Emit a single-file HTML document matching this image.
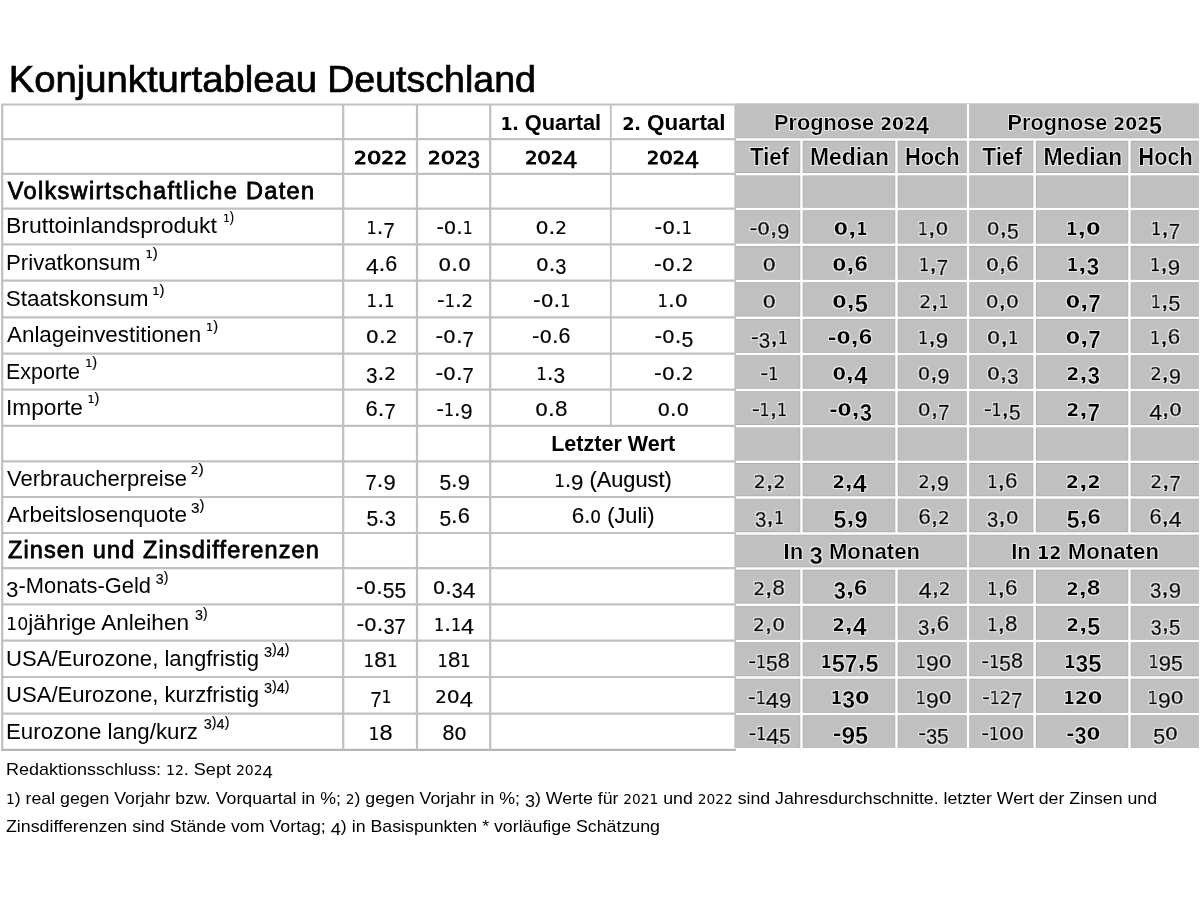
<!DOCTYPE html>
<html lang="de">
<head>
<meta charset="utf-8">
<title>Konjunkturtableau Deutschland</title>
<style>
html,body{margin:0;padding:0;background:#fff;}
body{width:1200px;height:900px;overflow:hidden;}
svg{display:block;}
text{font-family:"Liberation Sans",sans-serif;fill:#000;}
.b{font-weight:bold;}
.sb{font-weight:bold;}
.h{stroke:#000;stroke-width:0.8px;}
.o{font-family:"DejaVu Sans","Liberation Sans",sans-serif;}
.n{stroke:#000;stroke-width:0.15px;}
.n .o{stroke-width:0.18px;}
.n.g{stroke-width:0.7px;}
.n.g .o{stroke-width:0.7px;}
.g{filter:url(#halo);}
.t{stroke:#000;stroke-width:0.7px;}
.y{stroke:#000;stroke-width:0.7px;}
.y .o{stroke-width:0.9px;}
.f .o{stroke:none;}
</style>
</head>
<body>
<svg width="1200" height="900" viewBox="0 0 1200 900">
<defs><filter id="halo" x="-10%" y="-20%" width="120%" height="140%"><feMorphology in="SourceAlpha" operator="dilate" radius="0.9" result="d"/><feGaussianBlur in="d" stdDeviation="0.4" result="bl"/><feFlood flood-color="#fff" flood-opacity="0.6"/><feComposite operator="in" in2="bl" result="hl"/><feMerge><feMergeNode in="hl"/><feMergeNode in="SourceGraphic"/></feMerge></filter></defs>
<rect width="1200" height="900" fill="#fff"/>
<g id="grid">
<rect x="734.3" y="103.3" width="464.7" height="644.7" fill="#c0c0c0"/>
<line x1="1.1" y1="104.5" x2="734.5" y2="104.5" stroke="#c0c0c0" stroke-width="2.2"/>
<line x1="1.1" y1="139.2" x2="734.5" y2="139.2" stroke="#c0c0c0" stroke-width="2.2"/>
<line x1="1.1" y1="173.8" x2="734.5" y2="173.8" stroke="#c0c0c0" stroke-width="2.2"/>
<line x1="1.1" y1="208.7" x2="734.5" y2="208.7" stroke="#c0c0c0" stroke-width="2.2"/>
<line x1="1.1" y1="244.4" x2="734.5" y2="244.4" stroke="#c0c0c0" stroke-width="2.2"/>
<line x1="1.1" y1="280.7" x2="734.5" y2="280.7" stroke="#c0c0c0" stroke-width="2.2"/>
<line x1="1.1" y1="317.3" x2="734.5" y2="317.3" stroke="#c0c0c0" stroke-width="2.2"/>
<line x1="1.1" y1="353.6" x2="734.5" y2="353.6" stroke="#c0c0c0" stroke-width="2.2"/>
<line x1="1.1" y1="389.7" x2="734.5" y2="389.7" stroke="#c0c0c0" stroke-width="2.2"/>
<line x1="1.1" y1="425.8" x2="734.5" y2="425.8" stroke="#c0c0c0" stroke-width="2.2"/>
<line x1="1.1" y1="461.4" x2="734.5" y2="461.4" stroke="#c0c0c0" stroke-width="2.2"/>
<line x1="1.1" y1="497.0" x2="734.5" y2="497.0" stroke="#c0c0c0" stroke-width="2.2"/>
<line x1="1.1" y1="533.0" x2="734.5" y2="533.0" stroke="#c0c0c0" stroke-width="2.2"/>
<line x1="1.1" y1="568.1" x2="734.5" y2="568.1" stroke="#c0c0c0" stroke-width="2.2"/>
<line x1="1.1" y1="604.3" x2="734.5" y2="604.3" stroke="#c0c0c0" stroke-width="2.2"/>
<line x1="1.1" y1="640.7" x2="734.5" y2="640.7" stroke="#c0c0c0" stroke-width="2.2"/>
<line x1="1.1" y1="677.0" x2="734.5" y2="677.0" stroke="#c0c0c0" stroke-width="2.2"/>
<line x1="1.1" y1="713.6" x2="734.5" y2="713.6" stroke="#c0c0c0" stroke-width="2.2"/>
<line x1="1.1" y1="749.8" x2="736.0" y2="749.8" stroke="#b4b4b4" stroke-width="2.2"/>
<line x1="2.2" y1="104.5" x2="2.2" y2="749.8" stroke="#c0c0c0" stroke-width="2.2"/>
<line x1="343.2" y1="104.5" x2="343.2" y2="749.7" stroke="#c0c0c0" stroke-width="2.2"/>
<line x1="417.0" y1="104.5" x2="417.0" y2="749.7" stroke="#c0c0c0" stroke-width="2.2"/>
<line x1="490.2" y1="104.5" x2="490.2" y2="749.7" stroke="#c0c0c0" stroke-width="2.2"/>
<line x1="610.8" y1="104.5" x2="610.8" y2="425.8" stroke="#c0c0c0" stroke-width="1.8000000000000003"/>
<line x1="736.0" y1="139.6" x2="1199.0" y2="139.6" stroke="#a9a9a9" stroke-width="3.8"/>
<line x1="736.0" y1="174.2" x2="1199.0" y2="174.2" stroke="#a9a9a9" stroke-width="3.8"/>
<line x1="736.0" y1="209.1" x2="1199.0" y2="209.1" stroke="#a9a9a9" stroke-width="3.8"/>
<line x1="736.0" y1="244.8" x2="1199.0" y2="244.8" stroke="#a9a9a9" stroke-width="3.8"/>
<line x1="736.0" y1="281.1" x2="1199.0" y2="281.1" stroke="#a9a9a9" stroke-width="3.8"/>
<line x1="736.0" y1="317.7" x2="1199.0" y2="317.7" stroke="#a9a9a9" stroke-width="3.8"/>
<line x1="736.0" y1="354.0" x2="1199.0" y2="354.0" stroke="#a9a9a9" stroke-width="3.8"/>
<line x1="736.0" y1="390.1" x2="1199.0" y2="390.1" stroke="#a9a9a9" stroke-width="3.8"/>
<line x1="736.0" y1="426.2" x2="1199.0" y2="426.2" stroke="#a9a9a9" stroke-width="3.8"/>
<line x1="736.0" y1="461.8" x2="1199.0" y2="461.8" stroke="#a9a9a9" stroke-width="3.8"/>
<line x1="736.0" y1="497.4" x2="1199.0" y2="497.4" stroke="#a9a9a9" stroke-width="3.8"/>
<line x1="736.0" y1="533.4" x2="1199.0" y2="533.4" stroke="#a9a9a9" stroke-width="3.8"/>
<line x1="736.0" y1="568.5" x2="1199.0" y2="568.5" stroke="#a9a9a9" stroke-width="3.8"/>
<line x1="736.0" y1="604.7" x2="1199.0" y2="604.7" stroke="#a9a9a9" stroke-width="3.8"/>
<line x1="736.0" y1="641.1" x2="1199.0" y2="641.1" stroke="#a9a9a9" stroke-width="3.8"/>
<line x1="736.0" y1="677.4" x2="1199.0" y2="677.4" stroke="#a9a9a9" stroke-width="3.8"/>
<line x1="736.0" y1="714.0" x2="1199.0" y2="714.0" stroke="#a9a9a9" stroke-width="3.8"/>
<line x1="968.0" y1="103.3" x2="968.0" y2="139.2" stroke="#a9a9a9" stroke-width="3.8"/>
<line x1="801.5" y1="139.2" x2="801.5" y2="173.8" stroke="#a9a9a9" stroke-width="3.8"/>
<line x1="896.5" y1="139.2" x2="896.5" y2="173.8" stroke="#a9a9a9" stroke-width="3.8"/>
<line x1="968.0" y1="139.2" x2="968.0" y2="173.8" stroke="#a9a9a9" stroke-width="3.8"/>
<line x1="1034.6" y1="139.2" x2="1034.6" y2="173.8" stroke="#a9a9a9" stroke-width="3.8"/>
<line x1="1129.5" y1="139.2" x2="1129.5" y2="173.8" stroke="#a9a9a9" stroke-width="3.8"/>
<line x1="801.5" y1="173.8" x2="801.5" y2="208.7" stroke="#a9a9a9" stroke-width="3.8"/>
<line x1="896.5" y1="173.8" x2="896.5" y2="208.7" stroke="#a9a9a9" stroke-width="3.8"/>
<line x1="968.0" y1="173.8" x2="968.0" y2="208.7" stroke="#a9a9a9" stroke-width="3.8"/>
<line x1="1034.6" y1="173.8" x2="1034.6" y2="208.7" stroke="#a9a9a9" stroke-width="3.8"/>
<line x1="1129.5" y1="173.8" x2="1129.5" y2="208.7" stroke="#a9a9a9" stroke-width="3.8"/>
<line x1="801.5" y1="208.7" x2="801.5" y2="244.4" stroke="#a9a9a9" stroke-width="3.8"/>
<line x1="896.5" y1="208.7" x2="896.5" y2="244.4" stroke="#a9a9a9" stroke-width="3.8"/>
<line x1="968.0" y1="208.7" x2="968.0" y2="244.4" stroke="#a9a9a9" stroke-width="3.8"/>
<line x1="1034.6" y1="208.7" x2="1034.6" y2="244.4" stroke="#a9a9a9" stroke-width="3.8"/>
<line x1="1129.5" y1="208.7" x2="1129.5" y2="244.4" stroke="#a9a9a9" stroke-width="3.8"/>
<line x1="801.5" y1="244.4" x2="801.5" y2="280.7" stroke="#a9a9a9" stroke-width="3.8"/>
<line x1="896.5" y1="244.4" x2="896.5" y2="280.7" stroke="#a9a9a9" stroke-width="3.8"/>
<line x1="968.0" y1="244.4" x2="968.0" y2="280.7" stroke="#a9a9a9" stroke-width="3.8"/>
<line x1="1034.6" y1="244.4" x2="1034.6" y2="280.7" stroke="#a9a9a9" stroke-width="3.8"/>
<line x1="1129.5" y1="244.4" x2="1129.5" y2="280.7" stroke="#a9a9a9" stroke-width="3.8"/>
<line x1="801.5" y1="280.7" x2="801.5" y2="317.3" stroke="#a9a9a9" stroke-width="3.8"/>
<line x1="896.5" y1="280.7" x2="896.5" y2="317.3" stroke="#a9a9a9" stroke-width="3.8"/>
<line x1="968.0" y1="280.7" x2="968.0" y2="317.3" stroke="#a9a9a9" stroke-width="3.8"/>
<line x1="1034.6" y1="280.7" x2="1034.6" y2="317.3" stroke="#a9a9a9" stroke-width="3.8"/>
<line x1="1129.5" y1="280.7" x2="1129.5" y2="317.3" stroke="#a9a9a9" stroke-width="3.8"/>
<line x1="801.5" y1="317.3" x2="801.5" y2="353.6" stroke="#a9a9a9" stroke-width="3.8"/>
<line x1="896.5" y1="317.3" x2="896.5" y2="353.6" stroke="#a9a9a9" stroke-width="3.8"/>
<line x1="968.0" y1="317.3" x2="968.0" y2="353.6" stroke="#a9a9a9" stroke-width="3.8"/>
<line x1="1034.6" y1="317.3" x2="1034.6" y2="353.6" stroke="#a9a9a9" stroke-width="3.8"/>
<line x1="1129.5" y1="317.3" x2="1129.5" y2="353.6" stroke="#a9a9a9" stroke-width="3.8"/>
<line x1="801.5" y1="353.6" x2="801.5" y2="389.7" stroke="#a9a9a9" stroke-width="3.8"/>
<line x1="896.5" y1="353.6" x2="896.5" y2="389.7" stroke="#a9a9a9" stroke-width="3.8"/>
<line x1="968.0" y1="353.6" x2="968.0" y2="389.7" stroke="#a9a9a9" stroke-width="3.8"/>
<line x1="1034.6" y1="353.6" x2="1034.6" y2="389.7" stroke="#a9a9a9" stroke-width="3.8"/>
<line x1="1129.5" y1="353.6" x2="1129.5" y2="389.7" stroke="#a9a9a9" stroke-width="3.8"/>
<line x1="801.5" y1="389.7" x2="801.5" y2="425.8" stroke="#a9a9a9" stroke-width="3.8"/>
<line x1="896.5" y1="389.7" x2="896.5" y2="425.8" stroke="#a9a9a9" stroke-width="3.8"/>
<line x1="968.0" y1="389.7" x2="968.0" y2="425.8" stroke="#a9a9a9" stroke-width="3.8"/>
<line x1="1034.6" y1="389.7" x2="1034.6" y2="425.8" stroke="#a9a9a9" stroke-width="3.8"/>
<line x1="1129.5" y1="389.7" x2="1129.5" y2="425.8" stroke="#a9a9a9" stroke-width="3.8"/>
<line x1="801.5" y1="425.8" x2="801.5" y2="461.4" stroke="#a9a9a9" stroke-width="3.8"/>
<line x1="896.5" y1="425.8" x2="896.5" y2="461.4" stroke="#a9a9a9" stroke-width="3.8"/>
<line x1="968.0" y1="425.8" x2="968.0" y2="461.4" stroke="#a9a9a9" stroke-width="3.8"/>
<line x1="1034.6" y1="425.8" x2="1034.6" y2="461.4" stroke="#a9a9a9" stroke-width="3.8"/>
<line x1="1129.5" y1="425.8" x2="1129.5" y2="461.4" stroke="#a9a9a9" stroke-width="3.8"/>
<line x1="801.5" y1="461.4" x2="801.5" y2="497.0" stroke="#a9a9a9" stroke-width="3.8"/>
<line x1="896.5" y1="461.4" x2="896.5" y2="497.0" stroke="#a9a9a9" stroke-width="3.8"/>
<line x1="968.0" y1="461.4" x2="968.0" y2="497.0" stroke="#a9a9a9" stroke-width="3.8"/>
<line x1="1034.6" y1="461.4" x2="1034.6" y2="497.0" stroke="#a9a9a9" stroke-width="3.8"/>
<line x1="1129.5" y1="461.4" x2="1129.5" y2="497.0" stroke="#a9a9a9" stroke-width="3.8"/>
<line x1="801.5" y1="497.0" x2="801.5" y2="533.0" stroke="#a9a9a9" stroke-width="3.8"/>
<line x1="896.5" y1="497.0" x2="896.5" y2="533.0" stroke="#a9a9a9" stroke-width="3.8"/>
<line x1="968.0" y1="497.0" x2="968.0" y2="533.0" stroke="#a9a9a9" stroke-width="3.8"/>
<line x1="1034.6" y1="497.0" x2="1034.6" y2="533.0" stroke="#a9a9a9" stroke-width="3.8"/>
<line x1="1129.5" y1="497.0" x2="1129.5" y2="533.0" stroke="#a9a9a9" stroke-width="3.8"/>
<line x1="968.0" y1="533.0" x2="968.0" y2="568.1" stroke="#a9a9a9" stroke-width="3.8"/>
<line x1="801.5" y1="568.1" x2="801.5" y2="604.3" stroke="#a9a9a9" stroke-width="3.8"/>
<line x1="896.5" y1="568.1" x2="896.5" y2="604.3" stroke="#a9a9a9" stroke-width="3.8"/>
<line x1="968.0" y1="568.1" x2="968.0" y2="604.3" stroke="#a9a9a9" stroke-width="3.8"/>
<line x1="1034.6" y1="568.1" x2="1034.6" y2="604.3" stroke="#a9a9a9" stroke-width="3.8"/>
<line x1="1129.5" y1="568.1" x2="1129.5" y2="604.3" stroke="#a9a9a9" stroke-width="3.8"/>
<line x1="801.5" y1="604.3" x2="801.5" y2="640.7" stroke="#a9a9a9" stroke-width="3.8"/>
<line x1="896.5" y1="604.3" x2="896.5" y2="640.7" stroke="#a9a9a9" stroke-width="3.8"/>
<line x1="968.0" y1="604.3" x2="968.0" y2="640.7" stroke="#a9a9a9" stroke-width="3.8"/>
<line x1="1034.6" y1="604.3" x2="1034.6" y2="640.7" stroke="#a9a9a9" stroke-width="3.8"/>
<line x1="1129.5" y1="604.3" x2="1129.5" y2="640.7" stroke="#a9a9a9" stroke-width="3.8"/>
<line x1="801.5" y1="640.7" x2="801.5" y2="677.0" stroke="#a9a9a9" stroke-width="3.8"/>
<line x1="896.5" y1="640.7" x2="896.5" y2="677.0" stroke="#a9a9a9" stroke-width="3.8"/>
<line x1="968.0" y1="640.7" x2="968.0" y2="677.0" stroke="#a9a9a9" stroke-width="3.8"/>
<line x1="1034.6" y1="640.7" x2="1034.6" y2="677.0" stroke="#a9a9a9" stroke-width="3.8"/>
<line x1="1129.5" y1="640.7" x2="1129.5" y2="677.0" stroke="#a9a9a9" stroke-width="3.8"/>
<line x1="801.5" y1="677.0" x2="801.5" y2="713.6" stroke="#a9a9a9" stroke-width="3.8"/>
<line x1="896.5" y1="677.0" x2="896.5" y2="713.6" stroke="#a9a9a9" stroke-width="3.8"/>
<line x1="968.0" y1="677.0" x2="968.0" y2="713.6" stroke="#a9a9a9" stroke-width="3.8"/>
<line x1="1034.6" y1="677.0" x2="1034.6" y2="713.6" stroke="#a9a9a9" stroke-width="3.8"/>
<line x1="1129.5" y1="677.0" x2="1129.5" y2="713.6" stroke="#a9a9a9" stroke-width="3.8"/>
<line x1="801.5" y1="713.6" x2="801.5" y2="748.0" stroke="#a9a9a9" stroke-width="3.8"/>
<line x1="896.5" y1="713.6" x2="896.5" y2="748.0" stroke="#a9a9a9" stroke-width="3.8"/>
<line x1="968.0" y1="713.6" x2="968.0" y2="748.0" stroke="#a9a9a9" stroke-width="3.8"/>
<line x1="1034.6" y1="713.6" x2="1034.6" y2="748.0" stroke="#a9a9a9" stroke-width="3.8"/>
<line x1="1129.5" y1="713.6" x2="1129.5" y2="748.0" stroke="#a9a9a9" stroke-width="3.8"/>
<line x1="736.0" y1="139.6" x2="1199.0" y2="139.6" stroke="#fff" stroke-width="2.5"/>
<line x1="736.0" y1="174.2" x2="1199.0" y2="174.2" stroke="#fff" stroke-width="2.5"/>
<line x1="736.0" y1="209.1" x2="1199.0" y2="209.1" stroke="#fff" stroke-width="2.5"/>
<line x1="736.0" y1="244.8" x2="1199.0" y2="244.8" stroke="#fff" stroke-width="2.5"/>
<line x1="736.0" y1="281.1" x2="1199.0" y2="281.1" stroke="#fff" stroke-width="2.5"/>
<line x1="736.0" y1="317.7" x2="1199.0" y2="317.7" stroke="#fff" stroke-width="2.5"/>
<line x1="736.0" y1="354.0" x2="1199.0" y2="354.0" stroke="#fff" stroke-width="2.5"/>
<line x1="736.0" y1="390.1" x2="1199.0" y2="390.1" stroke="#fff" stroke-width="2.5"/>
<line x1="736.0" y1="426.2" x2="1199.0" y2="426.2" stroke="#fff" stroke-width="2.5"/>
<line x1="736.0" y1="461.8" x2="1199.0" y2="461.8" stroke="#fff" stroke-width="2.5"/>
<line x1="736.0" y1="497.4" x2="1199.0" y2="497.4" stroke="#fff" stroke-width="2.5"/>
<line x1="736.0" y1="533.4" x2="1199.0" y2="533.4" stroke="#fff" stroke-width="2.5"/>
<line x1="736.0" y1="568.5" x2="1199.0" y2="568.5" stroke="#fff" stroke-width="2.5"/>
<line x1="736.0" y1="604.7" x2="1199.0" y2="604.7" stroke="#fff" stroke-width="2.5"/>
<line x1="736.0" y1="641.1" x2="1199.0" y2="641.1" stroke="#fff" stroke-width="2.5"/>
<line x1="736.0" y1="677.4" x2="1199.0" y2="677.4" stroke="#fff" stroke-width="2.5"/>
<line x1="736.0" y1="714.0" x2="1199.0" y2="714.0" stroke="#fff" stroke-width="2.5"/>
<line x1="968.0" y1="103.3" x2="968.0" y2="140.6" stroke="#fff" stroke-width="2.5"/>
<line x1="801.5" y1="139.2" x2="801.5" y2="175.2" stroke="#fff" stroke-width="2.5"/>
<line x1="896.5" y1="139.2" x2="896.5" y2="175.2" stroke="#fff" stroke-width="2.5"/>
<line x1="968.0" y1="137.8" x2="968.0" y2="175.2" stroke="#fff" stroke-width="2.5"/>
<line x1="1034.6" y1="139.2" x2="1034.6" y2="175.2" stroke="#fff" stroke-width="2.5"/>
<line x1="1129.5" y1="139.2" x2="1129.5" y2="175.2" stroke="#fff" stroke-width="2.5"/>
<line x1="801.5" y1="172.4" x2="801.5" y2="210.1" stroke="#fff" stroke-width="2.5"/>
<line x1="896.5" y1="172.4" x2="896.5" y2="210.1" stroke="#fff" stroke-width="2.5"/>
<line x1="968.0" y1="172.4" x2="968.0" y2="210.1" stroke="#fff" stroke-width="2.5"/>
<line x1="1034.6" y1="172.4" x2="1034.6" y2="210.1" stroke="#fff" stroke-width="2.5"/>
<line x1="1129.5" y1="172.4" x2="1129.5" y2="210.1" stroke="#fff" stroke-width="2.5"/>
<line x1="801.5" y1="207.3" x2="801.5" y2="245.8" stroke="#fff" stroke-width="2.5"/>
<line x1="896.5" y1="207.3" x2="896.5" y2="245.8" stroke="#fff" stroke-width="2.5"/>
<line x1="968.0" y1="207.3" x2="968.0" y2="245.8" stroke="#fff" stroke-width="2.5"/>
<line x1="1034.6" y1="207.3" x2="1034.6" y2="245.8" stroke="#fff" stroke-width="2.5"/>
<line x1="1129.5" y1="207.3" x2="1129.5" y2="245.8" stroke="#fff" stroke-width="2.5"/>
<line x1="801.5" y1="243.0" x2="801.5" y2="282.1" stroke="#fff" stroke-width="2.5"/>
<line x1="896.5" y1="243.0" x2="896.5" y2="282.1" stroke="#fff" stroke-width="2.5"/>
<line x1="968.0" y1="243.0" x2="968.0" y2="282.1" stroke="#fff" stroke-width="2.5"/>
<line x1="1034.6" y1="243.0" x2="1034.6" y2="282.1" stroke="#fff" stroke-width="2.5"/>
<line x1="1129.5" y1="243.0" x2="1129.5" y2="282.1" stroke="#fff" stroke-width="2.5"/>
<line x1="801.5" y1="279.3" x2="801.5" y2="318.7" stroke="#fff" stroke-width="2.5"/>
<line x1="896.5" y1="279.3" x2="896.5" y2="318.7" stroke="#fff" stroke-width="2.5"/>
<line x1="968.0" y1="279.3" x2="968.0" y2="318.7" stroke="#fff" stroke-width="2.5"/>
<line x1="1034.6" y1="279.3" x2="1034.6" y2="318.7" stroke="#fff" stroke-width="2.5"/>
<line x1="1129.5" y1="279.3" x2="1129.5" y2="318.7" stroke="#fff" stroke-width="2.5"/>
<line x1="801.5" y1="315.9" x2="801.5" y2="355.0" stroke="#fff" stroke-width="2.5"/>
<line x1="896.5" y1="315.9" x2="896.5" y2="355.0" stroke="#fff" stroke-width="2.5"/>
<line x1="968.0" y1="315.9" x2="968.0" y2="355.0" stroke="#fff" stroke-width="2.5"/>
<line x1="1034.6" y1="315.9" x2="1034.6" y2="355.0" stroke="#fff" stroke-width="2.5"/>
<line x1="1129.5" y1="315.9" x2="1129.5" y2="355.0" stroke="#fff" stroke-width="2.5"/>
<line x1="801.5" y1="352.2" x2="801.5" y2="391.1" stroke="#fff" stroke-width="2.5"/>
<line x1="896.5" y1="352.2" x2="896.5" y2="391.1" stroke="#fff" stroke-width="2.5"/>
<line x1="968.0" y1="352.2" x2="968.0" y2="391.1" stroke="#fff" stroke-width="2.5"/>
<line x1="1034.6" y1="352.2" x2="1034.6" y2="391.1" stroke="#fff" stroke-width="2.5"/>
<line x1="1129.5" y1="352.2" x2="1129.5" y2="391.1" stroke="#fff" stroke-width="2.5"/>
<line x1="801.5" y1="388.3" x2="801.5" y2="427.2" stroke="#fff" stroke-width="2.5"/>
<line x1="896.5" y1="388.3" x2="896.5" y2="427.2" stroke="#fff" stroke-width="2.5"/>
<line x1="968.0" y1="388.3" x2="968.0" y2="427.2" stroke="#fff" stroke-width="2.5"/>
<line x1="1034.6" y1="388.3" x2="1034.6" y2="427.2" stroke="#fff" stroke-width="2.5"/>
<line x1="1129.5" y1="388.3" x2="1129.5" y2="427.2" stroke="#fff" stroke-width="2.5"/>
<line x1="801.5" y1="424.4" x2="801.5" y2="462.8" stroke="#fff" stroke-width="2.5"/>
<line x1="896.5" y1="424.4" x2="896.5" y2="462.8" stroke="#fff" stroke-width="2.5"/>
<line x1="968.0" y1="424.4" x2="968.0" y2="462.8" stroke="#fff" stroke-width="2.5"/>
<line x1="1034.6" y1="424.4" x2="1034.6" y2="462.8" stroke="#fff" stroke-width="2.5"/>
<line x1="1129.5" y1="424.4" x2="1129.5" y2="462.8" stroke="#fff" stroke-width="2.5"/>
<line x1="801.5" y1="460.0" x2="801.5" y2="498.4" stroke="#fff" stroke-width="2.5"/>
<line x1="896.5" y1="460.0" x2="896.5" y2="498.4" stroke="#fff" stroke-width="2.5"/>
<line x1="968.0" y1="460.0" x2="968.0" y2="498.4" stroke="#fff" stroke-width="2.5"/>
<line x1="1034.6" y1="460.0" x2="1034.6" y2="498.4" stroke="#fff" stroke-width="2.5"/>
<line x1="1129.5" y1="460.0" x2="1129.5" y2="498.4" stroke="#fff" stroke-width="2.5"/>
<line x1="801.5" y1="495.6" x2="801.5" y2="533.0" stroke="#fff" stroke-width="2.5"/>
<line x1="896.5" y1="495.6" x2="896.5" y2="533.0" stroke="#fff" stroke-width="2.5"/>
<line x1="968.0" y1="495.6" x2="968.0" y2="534.4" stroke="#fff" stroke-width="2.5"/>
<line x1="1034.6" y1="495.6" x2="1034.6" y2="533.0" stroke="#fff" stroke-width="2.5"/>
<line x1="1129.5" y1="495.6" x2="1129.5" y2="533.0" stroke="#fff" stroke-width="2.5"/>
<line x1="968.0" y1="531.6" x2="968.0" y2="569.5" stroke="#fff" stroke-width="2.5"/>
<line x1="801.5" y1="568.1" x2="801.5" y2="605.7" stroke="#fff" stroke-width="2.5"/>
<line x1="896.5" y1="568.1" x2="896.5" y2="605.7" stroke="#fff" stroke-width="2.5"/>
<line x1="968.0" y1="566.7" x2="968.0" y2="605.7" stroke="#fff" stroke-width="2.5"/>
<line x1="1034.6" y1="568.1" x2="1034.6" y2="605.7" stroke="#fff" stroke-width="2.5"/>
<line x1="1129.5" y1="568.1" x2="1129.5" y2="605.7" stroke="#fff" stroke-width="2.5"/>
<line x1="801.5" y1="602.9" x2="801.5" y2="642.1" stroke="#fff" stroke-width="2.5"/>
<line x1="896.5" y1="602.9" x2="896.5" y2="642.1" stroke="#fff" stroke-width="2.5"/>
<line x1="968.0" y1="602.9" x2="968.0" y2="642.1" stroke="#fff" stroke-width="2.5"/>
<line x1="1034.6" y1="602.9" x2="1034.6" y2="642.1" stroke="#fff" stroke-width="2.5"/>
<line x1="1129.5" y1="602.9" x2="1129.5" y2="642.1" stroke="#fff" stroke-width="2.5"/>
<line x1="801.5" y1="639.3" x2="801.5" y2="678.4" stroke="#fff" stroke-width="2.5"/>
<line x1="896.5" y1="639.3" x2="896.5" y2="678.4" stroke="#fff" stroke-width="2.5"/>
<line x1="968.0" y1="639.3" x2="968.0" y2="678.4" stroke="#fff" stroke-width="2.5"/>
<line x1="1034.6" y1="639.3" x2="1034.6" y2="678.4" stroke="#fff" stroke-width="2.5"/>
<line x1="1129.5" y1="639.3" x2="1129.5" y2="678.4" stroke="#fff" stroke-width="2.5"/>
<line x1="801.5" y1="675.6" x2="801.5" y2="715.0" stroke="#fff" stroke-width="2.5"/>
<line x1="896.5" y1="675.6" x2="896.5" y2="715.0" stroke="#fff" stroke-width="2.5"/>
<line x1="968.0" y1="675.6" x2="968.0" y2="715.0" stroke="#fff" stroke-width="2.5"/>
<line x1="1034.6" y1="675.6" x2="1034.6" y2="715.0" stroke="#fff" stroke-width="2.5"/>
<line x1="1129.5" y1="675.6" x2="1129.5" y2="715.0" stroke="#fff" stroke-width="2.5"/>
<line x1="801.5" y1="712.2" x2="801.5" y2="748.0" stroke="#fff" stroke-width="2.5"/>
<line x1="896.5" y1="712.2" x2="896.5" y2="748.0" stroke="#fff" stroke-width="2.5"/>
<line x1="968.0" y1="712.2" x2="968.0" y2="748.0" stroke="#fff" stroke-width="2.5"/>
<line x1="1034.6" y1="712.2" x2="1034.6" y2="748.0" stroke="#fff" stroke-width="2.5"/>
<line x1="1129.5" y1="712.2" x2="1129.5" y2="748.0" stroke="#fff" stroke-width="2.5"/>
</g>
<g id="txt">
<text id="title" y="92.3" font-size="36.5" class="t"><tspan id="ti1" x="8.7" textLength="308.4" lengthAdjust="spacingAndGlyphs">Konjunkturtableau</tspan> <tspan id="ti2" x="327.2" textLength="208.8" lengthAdjust="spacingAndGlyphs">Deutschland</tspan></text>
<g class="row head" id="row0">
<text id="t1" x="500.60" y="129.6" font-size="22.8" class="sb" textLength="100.60" lengthAdjust="spacingAndGlyphs"><tspan class="o" font-size="18.0">1</tspan>. Quartal</text>
<text id="t2" x="622.20" y="129.6" font-size="22.8" class="sb" textLength="103.40" lengthAdjust="spacingAndGlyphs"><tspan class="o" font-size="18.0">2</tspan>. Quartal</text>
<text id="t3" x="774.00" y="130.0" font-size="22.8" class="sb g" textLength="155.00" lengthAdjust="spacingAndGlyphs">Prognose <tspan class="o" font-size="18.0">2</tspan><tspan class="o" font-size="18.0">0</tspan><tspan class="o" font-size="18.0">2</tspan><tspan font-size="24.6" dy="4.3">4</tspan></text>
<text id="t4" x="1007.60" y="130.0" font-size="22.8" class="sb g" textLength="154.40" lengthAdjust="spacingAndGlyphs">Prognose <tspan class="o" font-size="18.0">2</tspan><tspan class="o" font-size="18.0">0</tspan><tspan class="o" font-size="18.0">2</tspan><tspan font-size="24.6" dy="4.3">5</tspan></text>
</g>
<g class="row head" id="row1">
<text id="t5" x="354.00" y="163.6" font-size="22" class="y"><tspan class="o" font-size="17.4" textLength="12.93" lengthAdjust="spacingAndGlyphs">2</tspan><tspan class="o" font-size="17.4" textLength="14.42" lengthAdjust="spacingAndGlyphs">0</tspan><tspan class="o" font-size="17.4" textLength="12.93" lengthAdjust="spacingAndGlyphs">2</tspan><tspan class="o" font-size="17.4" textLength="12.93" lengthAdjust="spacingAndGlyphs">2</tspan></text>
<text id="t6" x="428.00" y="163.6" font-size="22" class="y"><tspan class="o" font-size="17.4" textLength="12.72" lengthAdjust="spacingAndGlyphs">2</tspan><tspan class="o" font-size="17.4" textLength="14.18" lengthAdjust="spacingAndGlyphs">0</tspan><tspan class="o" font-size="17.4" textLength="12.72" lengthAdjust="spacingAndGlyphs">2</tspan><tspan font-size="23.8" dy="4.2" textLength="12.38" lengthAdjust="spacingAndGlyphs">3</tspan></text>
<text id="t7" x="525.20" y="163.6" font-size="22" class="y"><tspan class="o" font-size="17.4" textLength="12.19" lengthAdjust="spacingAndGlyphs">2</tspan><tspan class="o" font-size="17.4" textLength="13.60" lengthAdjust="spacingAndGlyphs">0</tspan><tspan class="o" font-size="17.4" textLength="12.19" lengthAdjust="spacingAndGlyphs">2</tspan><tspan font-size="23.8" dy="4.2" textLength="13.81" lengthAdjust="spacingAndGlyphs">4</tspan></text>
<text id="t8" x="647.00" y="163.6" font-size="22" class="y"><tspan class="o" font-size="17.4" textLength="12.19" lengthAdjust="spacingAndGlyphs">2</tspan><tspan class="o" font-size="17.4" textLength="13.60" lengthAdjust="spacingAndGlyphs">0</tspan><tspan class="o" font-size="17.4" textLength="12.19" lengthAdjust="spacingAndGlyphs">2</tspan><tspan font-size="23.8" dy="4.2" textLength="13.81" lengthAdjust="spacingAndGlyphs">4</tspan></text>
<text id="t9" x="750.00" y="164.6" font-size="23.1" class="sb g" textLength="39.00" lengthAdjust="spacingAndGlyphs">Tief</text>
<text id="t10" x="810.00" y="164.6" font-size="23.1" class="sb g" textLength="79.00" lengthAdjust="spacingAndGlyphs">Median</text>
<text id="t11" x="905.00" y="164.6" font-size="23.1" class="sb g" textLength="54.60" lengthAdjust="spacingAndGlyphs">Hoch</text>
<text id="t12" x="982.20" y="164.6" font-size="23.1" class="sb g" textLength="40.00" lengthAdjust="spacingAndGlyphs">Tief</text>
<text id="t13" x="1043.40" y="164.6" font-size="23.1" class="sb g" textLength="78.80" lengthAdjust="spacingAndGlyphs">Median</text>
<text id="t14" x="1138.60" y="164.6" font-size="23.1" class="sb g" textLength="54.00" lengthAdjust="spacingAndGlyphs">Hoch</text>
</g>
<g class="row section" id="row2">
<text id="t15" x="7.80" y="198.8" font-size="23.5" class="h" textLength="306.20" lengthAdjust="spacing">Volkswirtschaftliche Daten</text>
</g>
<g class="row data" id="row3">
<text id="t16" x="6.00" y="233.2" font-size="22" textLength="211.00" lengthAdjust="spacingAndGlyphs">Bruttoinlandsprodukt</text>
<text id="t17" x="223.20" y="221.6" font-size="14.5" class="n" textLength="10.80" lengthAdjust="spacingAndGlyphs"><tspan class="o" font-size="11.2">1</tspan>)</text>
<text id="t18" x="366.60" y="234.2" font-size="22" class="n"><tspan class="o" font-size="17.1" textLength="10.18" lengthAdjust="spacingAndGlyphs">1</tspan><tspan textLength="6.62" lengthAdjust="spacingAndGlyphs">.</tspan><tspan font-size="22.5" dy="3.6" textLength="11.20" lengthAdjust="spacingAndGlyphs">7</tspan></text>
<text id="t19" x="436.40" y="234.2" font-size="22" class="n"><tspan textLength="7.46" lengthAdjust="spacingAndGlyphs">-</tspan><tspan class="o" font-size="17.1" textLength="12.53" lengthAdjust="spacingAndGlyphs">0</tspan><tspan textLength="6.46" lengthAdjust="spacingAndGlyphs">.</tspan><tspan class="o" font-size="17.1" textLength="9.95" lengthAdjust="spacingAndGlyphs">1</tspan></text>
<text id="t20" x="535.40" y="234.2" font-size="22" class="n"><tspan class="o" font-size="17.1" textLength="13.10" lengthAdjust="spacingAndGlyphs">0</tspan><tspan textLength="6.76" lengthAdjust="spacingAndGlyphs">.</tspan><tspan class="o" font-size="17.1" textLength="11.75" lengthAdjust="spacingAndGlyphs">2</tspan></text>
<text id="t21" x="654.60" y="234.2" font-size="22" class="n"><tspan textLength="7.66" lengthAdjust="spacingAndGlyphs">-</tspan><tspan class="o" font-size="17.1" textLength="12.88" lengthAdjust="spacingAndGlyphs">0</tspan><tspan textLength="6.64" lengthAdjust="spacingAndGlyphs">.</tspan><tspan class="o" font-size="17.1" textLength="10.22" lengthAdjust="spacingAndGlyphs">1</tspan></text>
<text id="t22" x="749.80" y="234.9" font-size="22" class="n g"><tspan textLength="7.54" lengthAdjust="spacingAndGlyphs">-</tspan><tspan class="o" font-size="17.1" textLength="12.66" lengthAdjust="spacingAndGlyphs">0</tspan><tspan textLength="7.34" lengthAdjust="spacingAndGlyphs">,</tspan><tspan font-size="22.5" dy="3.6" textLength="12.06" lengthAdjust="spacingAndGlyphs">9</tspan></text>
<text id="t23" x="833.69" y="234.9" font-size="22" class="b g"><tspan class="o" font-size="17.4" textLength="14.25" lengthAdjust="spacingAndGlyphs">0</tspan><tspan textLength="8.26" lengthAdjust="spacingAndGlyphs">,</tspan><tspan class="o" font-size="17.4" textLength="11.31" lengthAdjust="spacingAndGlyphs">1</tspan></text>
<text id="t24" x="917.80" y="234.9" font-size="22" class="n g"><tspan class="o" font-size="17.1" textLength="10.23" lengthAdjust="spacingAndGlyphs">1</tspan><tspan textLength="7.47" lengthAdjust="spacingAndGlyphs">,</tspan><tspan class="o" font-size="17.1" textLength="12.89" lengthAdjust="spacingAndGlyphs">0</tspan></text>
<text id="t25" x="986.80" y="234.9" font-size="22" class="n g"><tspan class="o" font-size="17.1" textLength="12.80" lengthAdjust="spacingAndGlyphs">0</tspan><tspan textLength="7.42" lengthAdjust="spacingAndGlyphs">,</tspan><tspan font-size="22.5" dy="3.6" textLength="11.78" lengthAdjust="spacingAndGlyphs">5</tspan></text>
<text id="t26" x="1065.89" y="234.9" font-size="22" class="b g"><tspan class="o" font-size="17.4" textLength="11.65" lengthAdjust="spacingAndGlyphs">1</tspan><tspan textLength="8.50" lengthAdjust="spacingAndGlyphs">,</tspan><tspan class="o" font-size="17.4" textLength="14.67" lengthAdjust="spacingAndGlyphs">0</tspan></text>
<text id="t27" x="1151.00" y="234.9" font-size="22" class="n g"><tspan class="o" font-size="17.1" textLength="10.32" lengthAdjust="spacingAndGlyphs">1</tspan><tspan textLength="7.53" lengthAdjust="spacingAndGlyphs">,</tspan><tspan font-size="22.5" dy="3.6" textLength="11.35" lengthAdjust="spacingAndGlyphs">7</tspan></text>
</g>
<g class="row data" id="row4">
<text id="t28" x="6.00" y="269.5" font-size="22" textLength="134.60" lengthAdjust="spacingAndGlyphs">Privatkonsum</text>
<text id="t29" x="145.40" y="257.9" font-size="14.5" class="n" textLength="12.40" lengthAdjust="spacingAndGlyphs"><tspan class="o" font-size="11.2">1</tspan>)</text>
<text id="t30" x="366.00" y="270.5" font-size="22" class="n"><tspan font-size="22.5" dy="3.6" textLength="12.76" lengthAdjust="spacingAndGlyphs">4</tspan><tspan dy="-3.6" textLength="6.48" lengthAdjust="spacingAndGlyphs">.</tspan><tspan font-size="22.7" textLength="11.96" lengthAdjust="spacingAndGlyphs">6</tspan></text>
<text id="t31" x="438.20" y="270.5" font-size="22" class="n"><tspan class="o" font-size="17.1" textLength="13.04" lengthAdjust="spacingAndGlyphs">0</tspan><tspan textLength="6.73" lengthAdjust="spacingAndGlyphs">.</tspan><tspan class="o" font-size="17.1" textLength="13.04" lengthAdjust="spacingAndGlyphs">0</tspan></text>
<text id="t32" x="536.00" y="270.5" font-size="22" class="n"><tspan class="o" font-size="17.1" textLength="12.73" lengthAdjust="spacingAndGlyphs">0</tspan><tspan textLength="6.56" lengthAdjust="spacingAndGlyphs">.</tspan><tspan font-size="22.5" dy="3.6" textLength="11.11" lengthAdjust="spacingAndGlyphs">3</tspan></text>
<text id="t33" x="654.00" y="270.5" font-size="22" class="n"><tspan textLength="7.84" lengthAdjust="spacingAndGlyphs">-</tspan><tspan class="o" font-size="17.1" textLength="13.17" lengthAdjust="spacingAndGlyphs">0</tspan><tspan textLength="6.79" lengthAdjust="spacingAndGlyphs">.</tspan><tspan class="o" font-size="17.1" textLength="11.81" lengthAdjust="spacingAndGlyphs">2</tspan></text>
<text id="t34" x="762.40" y="271.2" font-size="22" class="n g"><tspan class="o" font-size="17.1" textLength="13.40" lengthAdjust="spacingAndGlyphs">0</tspan></text>
<text id="t35" x="832.33" y="271.2" font-size="22" class="b g"><tspan class="o" font-size="17.4" textLength="14.04" lengthAdjust="spacingAndGlyphs">0</tspan><tspan textLength="8.13" lengthAdjust="spacingAndGlyphs">,</tspan><tspan font-size="22.7" textLength="13.37" lengthAdjust="spacingAndGlyphs">6</tspan></text>
<text id="t36" x="919.00" y="271.2" font-size="22" class="n g"><tspan class="o" font-size="17.1" textLength="10.32" lengthAdjust="spacingAndGlyphs">1</tspan><tspan textLength="7.53" lengthAdjust="spacingAndGlyphs">,</tspan><tspan font-size="22.5" dy="3.6" textLength="11.35" lengthAdjust="spacingAndGlyphs">7</tspan></text>
<text id="t37" x="986.00" y="271.2" font-size="22" class="n g"><tspan class="o" font-size="17.1" textLength="12.88" lengthAdjust="spacingAndGlyphs">0</tspan><tspan textLength="7.46" lengthAdjust="spacingAndGlyphs">,</tspan><tspan font-size="22.7" textLength="12.26" lengthAdjust="spacingAndGlyphs">6</tspan></text>
<text id="t38" x="1066.38" y="271.2" font-size="22" class="b g"><tspan class="o" font-size="17.4" textLength="11.61" lengthAdjust="spacingAndGlyphs">1</tspan><tspan textLength="8.47" lengthAdjust="spacingAndGlyphs">,</tspan><tspan font-size="23.8" dy="4.2" textLength="12.77" lengthAdjust="spacingAndGlyphs">3</tspan></text>
<text id="t39" x="1150.00" y="271.2" font-size="22" class="n g"><tspan class="o" font-size="17.1" textLength="10.31" lengthAdjust="spacingAndGlyphs">1</tspan><tspan textLength="7.52" lengthAdjust="spacingAndGlyphs">,</tspan><tspan font-size="22.5" dy="3.6" textLength="12.37" lengthAdjust="spacingAndGlyphs">9</tspan></text>
</g>
<g class="row data" id="row5">
<text id="t40" x="5.80" y="306.1" font-size="22" textLength="142.60" lengthAdjust="spacingAndGlyphs">Staatskonsum</text>
<text id="t41" x="152.20" y="294.5" font-size="14.5" class="n" textLength="12.40" lengthAdjust="spacingAndGlyphs"><tspan class="o" font-size="11.2">1</tspan>)</text>
<text id="t42" x="366.60" y="307.1" font-size="22" class="n"><tspan class="o" font-size="17.1" textLength="10.57" lengthAdjust="spacingAndGlyphs">1</tspan><tspan textLength="6.87" lengthAdjust="spacingAndGlyphs">.</tspan><tspan class="o" font-size="17.1" textLength="10.57" lengthAdjust="spacingAndGlyphs">1</tspan></text>
<text id="t43" x="437.00" y="307.1" font-size="22" class="n"><tspan textLength="7.69" lengthAdjust="spacingAndGlyphs">-</tspan><tspan class="o" font-size="17.1" textLength="10.25" lengthAdjust="spacingAndGlyphs">1</tspan><tspan textLength="6.67" lengthAdjust="spacingAndGlyphs">.</tspan><tspan class="o" font-size="17.1" textLength="11.59" lengthAdjust="spacingAndGlyphs">2</tspan></text>
<text id="t44" x="533.00" y="307.1" font-size="22" class="n"><tspan textLength="7.66" lengthAdjust="spacingAndGlyphs">-</tspan><tspan class="o" font-size="17.1" textLength="12.88" lengthAdjust="spacingAndGlyphs">0</tspan><tspan textLength="6.64" lengthAdjust="spacingAndGlyphs">.</tspan><tspan class="o" font-size="17.1" textLength="10.22" lengthAdjust="spacingAndGlyphs">1</tspan></text>
<text id="t45" x="657.60" y="307.1" font-size="22" class="n"><tspan class="o" font-size="17.1" textLength="10.45" lengthAdjust="spacingAndGlyphs">1</tspan><tspan textLength="6.79" lengthAdjust="spacingAndGlyphs">.</tspan><tspan class="o" font-size="17.1" textLength="13.16" lengthAdjust="spacingAndGlyphs">0</tspan></text>
<text id="t46" x="762.40" y="307.8" font-size="22" class="n g"><tspan class="o" font-size="17.1" textLength="13.40" lengthAdjust="spacingAndGlyphs">0</tspan></text>
<text id="t47" x="832.20" y="307.8" font-size="22" class="b g"><tspan class="o" font-size="17.4" textLength="14.32" lengthAdjust="spacingAndGlyphs">0</tspan><tspan textLength="8.30" lengthAdjust="spacingAndGlyphs">,</tspan><tspan font-size="23.8" dy="4.2" textLength="13.18" lengthAdjust="spacingAndGlyphs">5</tspan></text>
<text id="t48" x="919.40" y="307.8" font-size="22" class="n g"><tspan class="o" font-size="17.1" textLength="11.62" lengthAdjust="spacingAndGlyphs">2</tspan><tspan textLength="7.50" lengthAdjust="spacingAndGlyphs">,</tspan><tspan class="o" font-size="17.1" textLength="10.28" lengthAdjust="spacingAndGlyphs">1</tspan></text>
<text id="t49" x="985.80" y="307.8" font-size="22" class="n g"><tspan class="o" font-size="17.1" textLength="12.79" lengthAdjust="spacingAndGlyphs">0</tspan><tspan textLength="7.41" lengthAdjust="spacingAndGlyphs">,</tspan><tspan class="o" font-size="17.1" textLength="12.79" lengthAdjust="spacingAndGlyphs">0</tspan></text>
<text id="t50" x="1065.71" y="307.8" font-size="22" class="b g"><tspan class="o" font-size="17.4" textLength="14.35" lengthAdjust="spacingAndGlyphs">0</tspan><tspan textLength="8.31" lengthAdjust="spacingAndGlyphs">,</tspan><tspan font-size="23.8" dy="4.2" textLength="12.53" lengthAdjust="spacingAndGlyphs">7</tspan></text>
<text id="t51" x="1150.80" y="307.8" font-size="22" class="n g"><tspan class="o" font-size="17.1" textLength="10.24" lengthAdjust="spacingAndGlyphs">1</tspan><tspan textLength="7.48" lengthAdjust="spacingAndGlyphs">,</tspan><tspan font-size="22.5" dy="3.6" textLength="11.88" lengthAdjust="spacingAndGlyphs">5</tspan></text>
</g>
<g class="row data" id="row6">
<text id="t52" x="7.00" y="342.4" font-size="22" textLength="194.20" lengthAdjust="spacingAndGlyphs">Anlageinvestitionen</text>
<text id="t53" x="206.00" y="330.8" font-size="14.5" class="n" textLength="12.00" lengthAdjust="spacingAndGlyphs"><tspan class="o" font-size="11.2">1</tspan>)</text>
<text id="t54" x="365.80" y="343.4" font-size="22" class="n"><tspan class="o" font-size="17.1" textLength="13.10" lengthAdjust="spacingAndGlyphs">0</tspan><tspan textLength="6.76" lengthAdjust="spacingAndGlyphs">.</tspan><tspan class="o" font-size="17.1" textLength="11.75" lengthAdjust="spacingAndGlyphs">2</tspan></text>
<text id="t55" x="435.40" y="343.4" font-size="22" class="n"><tspan textLength="7.66" lengthAdjust="spacingAndGlyphs">-</tspan><tspan class="o" font-size="17.1" textLength="12.87" lengthAdjust="spacingAndGlyphs">0</tspan><tspan textLength="6.64" lengthAdjust="spacingAndGlyphs">.</tspan><tspan font-size="22.5" dy="3.6" textLength="11.23" lengthAdjust="spacingAndGlyphs">7</tspan></text>
<text id="t56" x="532.00" y="343.4" font-size="22" class="n"><tspan textLength="7.46" lengthAdjust="spacingAndGlyphs">-</tspan><tspan class="o" font-size="17.1" textLength="12.53" lengthAdjust="spacingAndGlyphs">0</tspan><tspan textLength="6.47" lengthAdjust="spacingAndGlyphs">.</tspan><tspan font-size="22.7" textLength="11.94" lengthAdjust="spacingAndGlyphs">6</tspan></text>
<text id="t57" x="654.40" y="343.4" font-size="22" class="n"><tspan textLength="7.62" lengthAdjust="spacingAndGlyphs">-</tspan><tspan class="o" font-size="17.1" textLength="12.80" lengthAdjust="spacingAndGlyphs">0</tspan><tspan textLength="6.60" lengthAdjust="spacingAndGlyphs">.</tspan><tspan font-size="22.5" dy="3.6" textLength="11.78" lengthAdjust="spacingAndGlyphs">5</tspan></text>
<text id="t58" x="751.00" y="344.1" font-size="22" class="n g"><tspan textLength="7.79" lengthAdjust="spacingAndGlyphs">-</tspan><tspan font-size="22.5" dy="3.6" textLength="11.43" lengthAdjust="spacingAndGlyphs">3</tspan><tspan dy="-3.6" textLength="7.59" lengthAdjust="spacingAndGlyphs">,</tspan><tspan class="o" font-size="17.1" textLength="10.39" lengthAdjust="spacingAndGlyphs">1</tspan></text>
<text id="t59" x="827.98" y="344.1" font-size="22" class="b g"><tspan textLength="8.42" lengthAdjust="spacingAndGlyphs">-</tspan><tspan class="o" font-size="17.4" textLength="14.15" lengthAdjust="spacingAndGlyphs">0</tspan><tspan textLength="8.20" lengthAdjust="spacingAndGlyphs">,</tspan><tspan font-size="22.7" textLength="13.48" lengthAdjust="spacingAndGlyphs">6</tspan></text>
<text id="t60" x="918.00" y="344.1" font-size="22" class="n g"><tspan class="o" font-size="17.1" textLength="10.31" lengthAdjust="spacingAndGlyphs">1</tspan><tspan textLength="7.52" lengthAdjust="spacingAndGlyphs">,</tspan><tspan font-size="22.5" dy="3.6" textLength="12.37" lengthAdjust="spacingAndGlyphs">9</tspan></text>
<text id="t61" x="987.00" y="344.1" font-size="22" class="n g"><tspan class="o" font-size="17.1" textLength="13.32" lengthAdjust="spacingAndGlyphs">0</tspan><tspan textLength="7.72" lengthAdjust="spacingAndGlyphs">,</tspan><tspan class="o" font-size="17.1" textLength="10.57" lengthAdjust="spacingAndGlyphs">1</tspan></text>
<text id="t62" x="1065.71" y="344.1" font-size="22" class="b g"><tspan class="o" font-size="17.4" textLength="14.35" lengthAdjust="spacingAndGlyphs">0</tspan><tspan textLength="8.31" lengthAdjust="spacingAndGlyphs">,</tspan><tspan font-size="23.8" dy="4.2" textLength="12.53" lengthAdjust="spacingAndGlyphs">7</tspan></text>
<text id="t63" x="1150.00" y="344.1" font-size="22" class="n g"><tspan class="o" font-size="17.1" textLength="10.31" lengthAdjust="spacingAndGlyphs">1</tspan><tspan textLength="7.52" lengthAdjust="spacingAndGlyphs">,</tspan><tspan font-size="22.7" textLength="12.37" lengthAdjust="spacingAndGlyphs">6</tspan></text>
</g>
<g class="row data" id="row7">
<text id="t64" x="6.00" y="378.5" font-size="22" textLength="74.00" lengthAdjust="spacingAndGlyphs">Exporte</text>
<text id="t65" x="85.20" y="366.9" font-size="14.5" class="n" textLength="12.00" lengthAdjust="spacingAndGlyphs"><tspan class="o" font-size="11.2">1</tspan>)</text>
<text id="t66" x="366.00" y="379.5" font-size="22" class="n"><tspan font-size="22.5" dy="3.6" textLength="11.53" lengthAdjust="spacingAndGlyphs">3</tspan><tspan dy="-3.6" textLength="6.82" lengthAdjust="spacingAndGlyphs">.</tspan><tspan class="o" font-size="17.1" textLength="11.85" lengthAdjust="spacingAndGlyphs">2</tspan></text>
<text id="t67" x="435.40" y="379.5" font-size="22" class="n"><tspan textLength="7.66" lengthAdjust="spacingAndGlyphs">-</tspan><tspan class="o" font-size="17.1" textLength="12.87" lengthAdjust="spacingAndGlyphs">0</tspan><tspan textLength="6.64" lengthAdjust="spacingAndGlyphs">.</tspan><tspan font-size="22.5" dy="3.6" textLength="11.23" lengthAdjust="spacingAndGlyphs">7</tspan></text>
<text id="t68" x="536.20" y="379.5" font-size="22" class="n"><tspan class="o" font-size="17.1" textLength="10.55" lengthAdjust="spacingAndGlyphs">1</tspan><tspan textLength="6.85" lengthAdjust="spacingAndGlyphs">.</tspan><tspan font-size="22.5" dy="3.6" textLength="11.60" lengthAdjust="spacingAndGlyphs">3</tspan></text>
<text id="t69" x="654.00" y="379.5" font-size="22" class="n"><tspan textLength="7.84" lengthAdjust="spacingAndGlyphs">-</tspan><tspan class="o" font-size="17.1" textLength="13.17" lengthAdjust="spacingAndGlyphs">0</tspan><tspan textLength="6.79" lengthAdjust="spacingAndGlyphs">.</tspan><tspan class="o" font-size="17.1" textLength="11.81" lengthAdjust="spacingAndGlyphs">2</tspan></text>
<text id="t70" x="760.60" y="380.2" font-size="22" class="n g"><tspan textLength="7.71" lengthAdjust="spacingAndGlyphs">-</tspan><tspan class="o" font-size="17.1" textLength="10.29" lengthAdjust="spacingAndGlyphs">1</tspan></text>
<text id="t71" x="832.58" y="380.2" font-size="22" class="b g"><tspan class="o" font-size="17.4" textLength="13.50" lengthAdjust="spacingAndGlyphs">0</tspan><tspan textLength="7.82" lengthAdjust="spacingAndGlyphs">,</tspan><tspan font-size="23.8" dy="4.2" textLength="13.71" lengthAdjust="spacingAndGlyphs">4</tspan></text>
<text id="t72" x="917.80" y="380.2" font-size="22" class="n g"><tspan class="o" font-size="17.1" textLength="12.48" lengthAdjust="spacingAndGlyphs">0</tspan><tspan textLength="7.23" lengthAdjust="spacingAndGlyphs">,</tspan><tspan font-size="22.5" dy="3.6" textLength="11.89" lengthAdjust="spacingAndGlyphs">9</tspan></text>
<text id="t73" x="987.00" y="380.2" font-size="22" class="n g"><tspan class="o" font-size="17.1" textLength="12.89" lengthAdjust="spacingAndGlyphs">0</tspan><tspan textLength="7.47" lengthAdjust="spacingAndGlyphs">,</tspan><tspan font-size="22.5" dy="3.6" textLength="11.25" lengthAdjust="spacingAndGlyphs">3</tspan></text>
<text id="t74" x="1066.54" y="380.2" font-size="22" class="b g"><tspan class="o" font-size="17.4" textLength="12.79" lengthAdjust="spacingAndGlyphs">2</tspan><tspan textLength="8.27" lengthAdjust="spacingAndGlyphs">,</tspan><tspan font-size="23.8" dy="4.2" textLength="12.46" lengthAdjust="spacingAndGlyphs">3</tspan></text>
<text id="t75" x="1150.40" y="380.2" font-size="22" class="n g"><tspan class="o" font-size="17.1" textLength="11.23" lengthAdjust="spacingAndGlyphs">2</tspan><tspan textLength="7.25" lengthAdjust="spacingAndGlyphs">,</tspan><tspan font-size="22.5" dy="3.6" textLength="11.92" lengthAdjust="spacingAndGlyphs">9</tspan></text>
</g>
<g class="row data" id="row8">
<text id="t76" x="6.00" y="414.6" font-size="22" textLength="77.00" lengthAdjust="spacingAndGlyphs">Importe</text>
<text id="t77" x="87.40" y="403.0" font-size="14.5" class="n" textLength="12.00" lengthAdjust="spacingAndGlyphs"><tspan class="o" font-size="11.2">1</tspan>)</text>
<text id="t78" x="365.60" y="415.6" font-size="22" class="n"><tspan font-size="22.7" textLength="12.20" lengthAdjust="spacingAndGlyphs">6</tspan><tspan textLength="6.61" lengthAdjust="spacingAndGlyphs">.</tspan><tspan font-size="22.5" dy="3.6" textLength="11.19" lengthAdjust="spacingAndGlyphs">7</tspan></text>
<text id="t79" x="436.60" y="415.6" font-size="22" class="n"><tspan textLength="7.50" lengthAdjust="spacingAndGlyphs">-</tspan><tspan class="o" font-size="17.1" textLength="10.00" lengthAdjust="spacingAndGlyphs">1</tspan><tspan textLength="6.50" lengthAdjust="spacingAndGlyphs">.</tspan><tspan font-size="22.5" dy="3.6" textLength="12.00" lengthAdjust="spacingAndGlyphs">9</tspan></text>
<text id="t80" x="535.00" y="415.6" font-size="22" class="n"><tspan class="o" font-size="17.1" textLength="13.13" lengthAdjust="spacingAndGlyphs">0</tspan><tspan textLength="6.77" lengthAdjust="spacingAndGlyphs">.</tspan><tspan font-size="22.7" textLength="12.50" lengthAdjust="spacingAndGlyphs">8</tspan></text>
<text id="t81" x="657.40" y="415.6" font-size="22" class="n"><tspan class="o" font-size="17.1" textLength="12.64" lengthAdjust="spacingAndGlyphs">0</tspan><tspan textLength="6.52" lengthAdjust="spacingAndGlyphs">.</tspan><tspan class="o" font-size="17.1" textLength="12.64" lengthAdjust="spacingAndGlyphs">0</tspan></text>
<text id="t82" x="752.00" y="416.3" font-size="22" class="n g"><tspan textLength="7.59" lengthAdjust="spacingAndGlyphs">-</tspan><tspan class="o" font-size="17.1" textLength="10.11" lengthAdjust="spacingAndGlyphs">1</tspan><tspan textLength="7.38" lengthAdjust="spacingAndGlyphs">,</tspan><tspan class="o" font-size="17.1" textLength="10.11" lengthAdjust="spacingAndGlyphs">1</tspan></text>
<text id="t83" x="829.16" y="416.3" font-size="22" class="b g"><tspan textLength="8.38" lengthAdjust="spacingAndGlyphs">-</tspan><tspan class="o" font-size="17.4" textLength="14.07" lengthAdjust="spacingAndGlyphs">0</tspan><tspan textLength="8.15" lengthAdjust="spacingAndGlyphs">,</tspan><tspan font-size="23.8" dy="4.2" textLength="12.28" lengthAdjust="spacingAndGlyphs">3</tspan></text>
<text id="t84" x="917.80" y="416.3" font-size="22" class="n g"><tspan class="o" font-size="17.1" textLength="12.89" lengthAdjust="spacingAndGlyphs">0</tspan><tspan textLength="7.47" lengthAdjust="spacingAndGlyphs">,</tspan><tspan font-size="22.5" dy="3.6" textLength="11.25" lengthAdjust="spacingAndGlyphs">7</tspan></text>
<text id="t85" x="984.00" y="416.3" font-size="22" class="n g"><tspan textLength="7.54" lengthAdjust="spacingAndGlyphs">-</tspan><tspan class="o" font-size="17.1" textLength="10.05" lengthAdjust="spacingAndGlyphs">1</tspan><tspan textLength="7.34" lengthAdjust="spacingAndGlyphs">,</tspan><tspan font-size="22.5" dy="3.6" textLength="11.66" lengthAdjust="spacingAndGlyphs">5</tspan></text>
<text id="t86" x="1066.54" y="416.3" font-size="22" class="b g"><tspan class="o" font-size="17.4" textLength="12.79" lengthAdjust="spacingAndGlyphs">2</tspan><tspan textLength="8.27" lengthAdjust="spacingAndGlyphs">,</tspan><tspan font-size="23.8" dy="4.2" textLength="12.46" lengthAdjust="spacingAndGlyphs">7</tspan></text>
<text id="t87" x="1149.20" y="416.3" font-size="22" class="n g"><tspan font-size="22.5" dy="3.6" textLength="12.84" lengthAdjust="spacingAndGlyphs">4</tspan><tspan dy="-3.6" textLength="7.32" lengthAdjust="spacingAndGlyphs">,</tspan><tspan class="o" font-size="17.1" textLength="12.64" lengthAdjust="spacingAndGlyphs">0</tspan></text>
</g>
<g class="row sub" id="row9">
<text id="t88" x="551.20" y="450.7" font-size="22.8" class="sb" textLength="124.00" lengthAdjust="spacingAndGlyphs">Letzter Wert</text>
</g>
<g class="row data" id="row10">
<text id="t89" x="7.00" y="485.8" font-size="22" textLength="180.00" lengthAdjust="spacingAndGlyphs">Verbraucherpreise</text>
<text id="t90" x="190.80" y="474.2" font-size="14.5" class="n" textLength="13.00" lengthAdjust="spacingAndGlyphs"><tspan class="o" font-size="11.2">2</tspan>)</text>
<text id="t91" x="365.60" y="486.8" font-size="22" class="n"><tspan font-size="22.5" dy="3.6" textLength="11.19" lengthAdjust="spacingAndGlyphs">7</tspan><tspan dy="-3.6" textLength="6.61" lengthAdjust="spacingAndGlyphs">.</tspan><tspan font-size="22.5" dy="3.6" textLength="12.20" lengthAdjust="spacingAndGlyphs">9</tspan></text>
<text id="t92" x="439.40" y="486.8" font-size="22" class="n"><tspan font-size="22.5" dy="3.6" textLength="11.72" lengthAdjust="spacingAndGlyphs">5</tspan><tspan dy="-3.6" textLength="6.56" lengthAdjust="spacingAndGlyphs">.</tspan><tspan font-size="22.5" dy="3.6" textLength="12.12" lengthAdjust="spacingAndGlyphs">9</tspan></text>
<text id="t93" x="554.20" y="486.8" font-size="22" class="n" textLength="117.60" lengthAdjust="spacingAndGlyphs"><tspan class="o" font-size="17.1">1</tspan>.<tspan font-size="22.5" dy="3.6">9</tspan><tspan dy="-3.6"> </tspan>(August)</text>
<text id="t94" x="753.80" y="487.5" font-size="22" class="n g"><tspan class="o" font-size="17.1" textLength="11.94" lengthAdjust="spacingAndGlyphs">2</tspan><tspan textLength="7.72" lengthAdjust="spacingAndGlyphs">,</tspan><tspan class="o" font-size="17.1" textLength="11.94" lengthAdjust="spacingAndGlyphs">2</tspan></text>
<text id="t95" x="832.42" y="487.5" font-size="22" class="b g"><tspan class="o" font-size="17.4" textLength="12.37" lengthAdjust="spacingAndGlyphs">2</tspan><tspan textLength="7.99" lengthAdjust="spacingAndGlyphs">,</tspan><tspan font-size="23.8" dy="4.2" textLength="14.01" lengthAdjust="spacingAndGlyphs">4</tspan></text>
<text id="t96" x="918.40" y="487.5" font-size="22" class="n g"><tspan class="o" font-size="17.1" textLength="11.23" lengthAdjust="spacingAndGlyphs">2</tspan><tspan textLength="7.25" lengthAdjust="spacingAndGlyphs">,</tspan><tspan font-size="22.5" dy="3.6" textLength="11.92" lengthAdjust="spacingAndGlyphs">9</tspan></text>
<text id="t97" x="987.20" y="487.5" font-size="22" class="n g"><tspan class="o" font-size="17.1" textLength="10.31" lengthAdjust="spacingAndGlyphs">1</tspan><tspan textLength="7.52" lengthAdjust="spacingAndGlyphs">,</tspan><tspan font-size="22.7" textLength="12.37" lengthAdjust="spacingAndGlyphs">6</tspan></text>
<text id="t98" x="1065.89" y="487.5" font-size="22" class="b g"><tspan class="o" font-size="17.4" textLength="13.16" lengthAdjust="spacingAndGlyphs">2</tspan><tspan textLength="8.50" lengthAdjust="spacingAndGlyphs">,</tspan><tspan class="o" font-size="17.4" textLength="13.16" lengthAdjust="spacingAndGlyphs">2</tspan></text>
<text id="t99" x="1150.40" y="487.5" font-size="22" class="n g"><tspan class="o" font-size="17.1" textLength="11.61" lengthAdjust="spacingAndGlyphs">2</tspan><tspan textLength="7.50" lengthAdjust="spacingAndGlyphs">,</tspan><tspan font-size="22.5" dy="3.6" textLength="11.30" lengthAdjust="spacingAndGlyphs">7</tspan></text>
</g>
<g class="row data" id="row11">
<text id="t100" x="7.00" y="521.8" font-size="22" textLength="180.00" lengthAdjust="spacingAndGlyphs">Arbeitslosenquote</text>
<text id="t101" x="191.00" y="510.2" font-size="14.5" class="n" textLength="13.40" lengthAdjust="spacingAndGlyphs"><tspan font-size="14.8" dy="2.4">3</tspan><tspan dy="-2.4">)</tspan></text>
<text id="t102" x="366.40" y="522.8" font-size="22" class="n"><tspan font-size="22.5" dy="3.6" textLength="11.72" lengthAdjust="spacingAndGlyphs">5</tspan><tspan dy="-3.6" textLength="6.57" lengthAdjust="spacingAndGlyphs">.</tspan><tspan font-size="22.5" dy="3.6" textLength="11.11" lengthAdjust="spacingAndGlyphs">3</tspan></text>
<text id="t103" x="439.40" y="522.8" font-size="22" class="n"><tspan font-size="22.5" dy="3.6" textLength="11.72" lengthAdjust="spacingAndGlyphs">5</tspan><tspan dy="-3.6" textLength="6.56" lengthAdjust="spacingAndGlyphs">.</tspan><tspan font-size="22.7" textLength="12.12" lengthAdjust="spacingAndGlyphs">6</tspan></text>
<text id="t104" x="571.80" y="522.8" font-size="22" class="n" textLength="82.60" lengthAdjust="spacingAndGlyphs"><tspan font-size="22.7">6</tspan>.<tspan class="o" font-size="17.1">0</tspan> (Juli)</text>
<text id="t105" x="755.00" y="523.5" font-size="22" class="n g"><tspan font-size="22.5" dy="3.6" textLength="11.35" lengthAdjust="spacingAndGlyphs">3</tspan><tspan dy="-3.6" textLength="7.53" lengthAdjust="spacingAndGlyphs">,</tspan><tspan class="o" font-size="17.1" textLength="10.32" lengthAdjust="spacingAndGlyphs">1</tspan></text>
<text id="t106" x="833.51" y="523.5" font-size="22" class="b g"><tspan font-size="23.8" dy="4.2" textLength="12.83" lengthAdjust="spacingAndGlyphs">5</tspan><tspan dy="-4.2" textLength="8.08" lengthAdjust="spacingAndGlyphs">,</tspan><tspan font-size="23.8" dy="4.2" textLength="13.28" lengthAdjust="spacingAndGlyphs">9</tspan></text>
<text id="t107" x="918.40" y="523.5" font-size="22" class="n g"><tspan font-size="22.7" textLength="12.31" lengthAdjust="spacingAndGlyphs">6</tspan><tspan textLength="7.49" lengthAdjust="spacingAndGlyphs">,</tspan><tspan class="o" font-size="17.1" textLength="11.60" lengthAdjust="spacingAndGlyphs">2</tspan></text>
<text id="t108" x="987.00" y="523.5" font-size="22" class="n g"><tspan font-size="22.5" dy="3.6" textLength="11.25" lengthAdjust="spacingAndGlyphs">3</tspan><tspan dy="-3.6" textLength="7.47" lengthAdjust="spacingAndGlyphs">,</tspan><tspan class="o" font-size="17.1" textLength="12.89" lengthAdjust="spacingAndGlyphs">0</tspan></text>
<text id="t109" x="1066.71" y="523.5" font-size="22" class="b g"><tspan font-size="23.8" dy="4.2" textLength="12.83" lengthAdjust="spacingAndGlyphs">5</tspan><tspan dy="-4.2" textLength="8.08" lengthAdjust="spacingAndGlyphs">,</tspan><tspan font-size="22.7" textLength="13.28" lengthAdjust="spacingAndGlyphs">6</tspan></text>
<text id="t110" x="1149.40" y="523.5" font-size="22" class="n g"><tspan font-size="22.7" textLength="12.11" lengthAdjust="spacingAndGlyphs">6</tspan><tspan textLength="7.37" lengthAdjust="spacingAndGlyphs">,</tspan><tspan font-size="22.5" dy="3.6" textLength="12.92" lengthAdjust="spacingAndGlyphs">4</tspan></text>
</g>
<g class="row section" id="row12">
<text id="t111" x="8.00" y="557.7" font-size="23.5" class="h" textLength="310.80" lengthAdjust="spacing">Zinsen und Zinsdifferenzen</text>
<text id="t112" x="783.60" y="559.2" font-size="22.8" class="sb g" textLength="136.40" lengthAdjust="spacingAndGlyphs">In <tspan font-size="24.6" dy="4.3">3</tspan><tspan dy="-4.3"> </tspan>Monaten</text>
<text id="t113" x="1011.20" y="559.2" font-size="22.8" class="sb g" textLength="147.80" lengthAdjust="spacingAndGlyphs">In <tspan class="o" font-size="18.0">1</tspan><tspan class="o" font-size="18.0">2</tspan> Monaten</text>
</g>
<g class="row data" id="row13">
<text id="t114" x="6.00" y="593.1" font-size="22" textLength="145.00" lengthAdjust="spacingAndGlyphs"><tspan font-size="22.5" dy="3.6">3</tspan><tspan dy="-3.6">-</tspan>Monats-Geld</text>
<text id="t115" x="155.80" y="581.5" font-size="14.5" class="n" textLength="12.60" lengthAdjust="spacingAndGlyphs"><tspan font-size="14.8" dy="2.4">3</tspan><tspan dy="-2.4">)</tspan></text>
<text id="t116" x="356.00" y="594.1" font-size="22" class="n"><tspan textLength="7.56" lengthAdjust="spacingAndGlyphs">-</tspan><tspan class="o" font-size="17.1" textLength="12.70" lengthAdjust="spacingAndGlyphs">0</tspan><tspan textLength="6.55" lengthAdjust="spacingAndGlyphs">.</tspan><tspan font-size="22.5" dy="3.6" textLength="11.69" lengthAdjust="spacingAndGlyphs">5</tspan><tspan font-size="22.5" textLength="11.69" lengthAdjust="spacingAndGlyphs">5</tspan></text>
<text id="t117" x="432.80" y="594.1" font-size="22" class="n"><tspan class="o" font-size="17.1" textLength="12.51" lengthAdjust="spacingAndGlyphs">0</tspan><tspan textLength="6.45" lengthAdjust="spacingAndGlyphs">.</tspan><tspan font-size="22.5" dy="3.6" textLength="10.92" lengthAdjust="spacingAndGlyphs">3</tspan><tspan font-size="22.5" textLength="12.71" lengthAdjust="spacingAndGlyphs">4</tspan></text>
<text id="t118" x="753.40" y="594.8" font-size="22" class="n g"><tspan class="o" font-size="17.1" textLength="11.60" lengthAdjust="spacingAndGlyphs">2</tspan><tspan textLength="7.49" lengthAdjust="spacingAndGlyphs">,</tspan><tspan font-size="22.7" textLength="12.31" lengthAdjust="spacingAndGlyphs">8</tspan></text>
<text id="t119" x="833.82" y="594.8" font-size="22" class="b g"><tspan font-size="23.8" dy="4.2" textLength="12.19" lengthAdjust="spacingAndGlyphs">3</tspan><tspan dy="-4.2" textLength="8.09" lengthAdjust="spacingAndGlyphs">,</tspan><tspan font-size="22.7" textLength="13.29" lengthAdjust="spacingAndGlyphs">6</tspan></text>
<text id="t120" x="918.80" y="594.8" font-size="22" class="n g"><tspan font-size="22.5" dy="3.6" textLength="12.88" lengthAdjust="spacingAndGlyphs">4</tspan><tspan dy="-3.6" textLength="7.35" lengthAdjust="spacingAndGlyphs">,</tspan><tspan class="o" font-size="17.1" textLength="11.37" lengthAdjust="spacingAndGlyphs">2</tspan></text>
<text id="t121" x="987.20" y="594.8" font-size="22" class="n g"><tspan class="o" font-size="17.1" textLength="10.31" lengthAdjust="spacingAndGlyphs">1</tspan><tspan textLength="7.52" lengthAdjust="spacingAndGlyphs">,</tspan><tspan font-size="22.7" textLength="12.37" lengthAdjust="spacingAndGlyphs">6</tspan></text>
<text id="t122" x="1066.36" y="594.8" font-size="22" class="b g"><tspan class="o" font-size="17.4" textLength="12.51" lengthAdjust="spacingAndGlyphs">2</tspan><tspan textLength="8.08" lengthAdjust="spacingAndGlyphs">,</tspan><tspan font-size="22.7" textLength="13.28" lengthAdjust="spacingAndGlyphs">8</tspan></text>
<text id="t123" x="1150.00" y="594.8" font-size="22" class="n g"><tspan font-size="22.5" dy="3.6" textLength="11.33" lengthAdjust="spacingAndGlyphs">3</tspan><tspan dy="-3.6" textLength="7.52" lengthAdjust="spacingAndGlyphs">,</tspan><tspan font-size="22.5" dy="3.6" textLength="12.36" lengthAdjust="spacingAndGlyphs">9</tspan></text>
</g>
<g class="row data" id="row14">
<text id="t124" x="6.00" y="629.5" font-size="22" textLength="183.00" lengthAdjust="spacingAndGlyphs"><tspan class="o" font-size="17.1">1</tspan><tspan class="o" font-size="17.1">0</tspan>jährige Anleihen</text>
<text id="t125" x="195.00" y="617.9" font-size="14.5" class="n" textLength="12.60" lengthAdjust="spacingAndGlyphs"><tspan font-size="14.8" dy="2.4">3</tspan><tspan dy="-2.4">)</tspan></text>
<text id="t126" x="356.40" y="630.5" font-size="22" class="n"><tspan textLength="7.62" lengthAdjust="spacingAndGlyphs">-</tspan><tspan class="o" font-size="17.1" textLength="12.81" lengthAdjust="spacingAndGlyphs">0</tspan><tspan textLength="6.61" lengthAdjust="spacingAndGlyphs">.</tspan><tspan font-size="22.5" dy="3.6" textLength="11.18" lengthAdjust="spacingAndGlyphs">3</tspan><tspan font-size="22.5" textLength="11.18" lengthAdjust="spacingAndGlyphs">7</tspan></text>
<text id="t127" x="434.00" y="630.5" font-size="22" class="n"><tspan class="o" font-size="17.1" textLength="10.23" lengthAdjust="spacingAndGlyphs">1</tspan><tspan textLength="6.65" lengthAdjust="spacingAndGlyphs">.</tspan><tspan class="o" font-size="17.1" textLength="10.23" lengthAdjust="spacingAndGlyphs">1</tspan><tspan font-size="22.5" dy="3.6" textLength="13.09" lengthAdjust="spacingAndGlyphs">4</tspan></text>
<text id="t128" x="753.20" y="631.2" font-size="22" class="n g"><tspan class="o" font-size="17.1" textLength="11.52" lengthAdjust="spacingAndGlyphs">2</tspan><tspan textLength="7.44" lengthAdjust="spacingAndGlyphs">,</tspan><tspan class="o" font-size="17.1" textLength="12.84" lengthAdjust="spacingAndGlyphs">0</tspan></text>
<text id="t129" x="832.42" y="631.2" font-size="22" class="b g"><tspan class="o" font-size="17.4" textLength="12.37" lengthAdjust="spacingAndGlyphs">2</tspan><tspan textLength="7.99" lengthAdjust="spacingAndGlyphs">,</tspan><tspan font-size="23.8" dy="4.2" textLength="14.01" lengthAdjust="spacingAndGlyphs">4</tspan></text>
<text id="t130" x="918.00" y="631.2" font-size="22" class="n g"><tspan font-size="22.5" dy="3.6" textLength="11.33" lengthAdjust="spacingAndGlyphs">3</tspan><tspan dy="-3.6" textLength="7.52" lengthAdjust="spacingAndGlyphs">,</tspan><tspan font-size="22.7" textLength="12.36" lengthAdjust="spacingAndGlyphs">6</tspan></text>
<text id="t131" x="987.20" y="631.2" font-size="22" class="n g"><tspan class="o" font-size="17.1" textLength="10.31" lengthAdjust="spacingAndGlyphs">1</tspan><tspan textLength="7.52" lengthAdjust="spacingAndGlyphs">,</tspan><tspan font-size="22.7" textLength="12.37" lengthAdjust="spacingAndGlyphs">8</tspan></text>
<text id="t132" x="1066.23" y="631.2" font-size="22" class="b g"><tspan class="o" font-size="17.4" textLength="12.77" lengthAdjust="spacingAndGlyphs">2</tspan><tspan textLength="8.25" lengthAdjust="spacingAndGlyphs">,</tspan><tspan font-size="23.8" dy="4.2" textLength="13.11" lengthAdjust="spacingAndGlyphs">5</tspan></text>
<text id="t133" x="1150.80" y="631.2" font-size="22" class="n g"><tspan font-size="22.5" dy="3.6" textLength="10.89" lengthAdjust="spacingAndGlyphs">3</tspan><tspan dy="-3.6" textLength="7.23" lengthAdjust="spacingAndGlyphs">,</tspan><tspan font-size="22.5" dy="3.6" textLength="11.48" lengthAdjust="spacingAndGlyphs">5</tspan></text>
</g>
<g class="row data" id="row15">
<text id="t134" x="6.00" y="665.8" font-size="22" textLength="253.00" lengthAdjust="spacingAndGlyphs">USA/Eurozone, langfristig</text>
<text id="t135" x="264.00" y="654.2" font-size="14.5" class="n" textLength="25.60" lengthAdjust="spacingAndGlyphs"><tspan font-size="14.8" dy="2.4">3</tspan><tspan dy="-2.4">)</tspan><tspan font-size="14.8" dy="2.4">4</tspan><tspan dy="-2.4">)</tspan></text>
<text id="t136" x="363.60" y="666.8" font-size="22" class="n"><tspan class="o" font-size="17.1" textLength="10.62" lengthAdjust="spacingAndGlyphs">1</tspan><tspan font-size="22.7" textLength="12.75" lengthAdjust="spacingAndGlyphs">8</tspan><tspan class="o" font-size="17.1" textLength="10.62" lengthAdjust="spacingAndGlyphs">1</tspan></text>
<text id="t137" x="437.60" y="666.8" font-size="22" class="n"><tspan class="o" font-size="17.1" textLength="10.31" lengthAdjust="spacingAndGlyphs">1</tspan><tspan font-size="22.7" textLength="12.38" lengthAdjust="spacingAndGlyphs">8</tspan><tspan class="o" font-size="17.1" textLength="10.31" lengthAdjust="spacingAndGlyphs">1</tspan></text>
<text id="t138" x="748.40" y="667.5" font-size="22" class="n g"><tspan textLength="7.55" lengthAdjust="spacingAndGlyphs">-</tspan><tspan class="o" font-size="17.1" textLength="10.07" lengthAdjust="spacingAndGlyphs">1</tspan><tspan font-size="22.5" dy="3.6" textLength="11.68" lengthAdjust="spacingAndGlyphs">5</tspan><tspan font-size="22.7" dy="-3.6" textLength="12.09" lengthAdjust="spacingAndGlyphs">8</tspan></text>
<text id="t139" x="820.60" y="667.5" font-size="22" class="b g"><tspan class="o" font-size="17.4" textLength="11.26" lengthAdjust="spacingAndGlyphs">1</tspan><tspan font-size="23.8" dy="4.2" textLength="13.06" lengthAdjust="spacingAndGlyphs">5</tspan><tspan font-size="23.8" textLength="12.39" lengthAdjust="spacingAndGlyphs">7</tspan><tspan dy="-4.2" textLength="8.22" lengthAdjust="spacingAndGlyphs">,</tspan><tspan font-size="23.8" dy="4.2" textLength="13.06" lengthAdjust="spacingAndGlyphs">5</tspan></text>
<text id="t140" x="915.40" y="667.5" font-size="22" class="n g"><tspan class="o" font-size="17.1" textLength="10.52" lengthAdjust="spacingAndGlyphs">1</tspan><tspan font-size="22.5" dy="3.6" textLength="12.62" lengthAdjust="spacingAndGlyphs">9</tspan><tspan class="o" font-size="17.1" dy="-3.6" textLength="13.26" lengthAdjust="spacingAndGlyphs">0</tspan></text>
<text id="t141" x="981.60" y="667.5" font-size="22" class="n g"><tspan textLength="7.55" lengthAdjust="spacingAndGlyphs">-</tspan><tspan class="o" font-size="17.1" textLength="10.07" lengthAdjust="spacingAndGlyphs">1</tspan><tspan font-size="22.5" dy="3.6" textLength="11.68" lengthAdjust="spacingAndGlyphs">5</tspan><tspan font-size="22.7" dy="-3.6" textLength="12.09" lengthAdjust="spacingAndGlyphs">8</tspan></text>
<text id="t142" x="1064.00" y="667.5" font-size="22" class="b g"><tspan class="o" font-size="17.4" textLength="11.53" lengthAdjust="spacingAndGlyphs">1</tspan><tspan font-size="23.8" dy="4.2" textLength="12.69" lengthAdjust="spacingAndGlyphs">3</tspan><tspan font-size="23.8" textLength="13.38" lengthAdjust="spacingAndGlyphs">5</tspan></text>
<text id="t143" x="1148.40" y="667.5" font-size="22" class="n g"><tspan class="o" font-size="17.1" textLength="10.24" lengthAdjust="spacingAndGlyphs">1</tspan><tspan font-size="22.5" dy="3.6" textLength="12.29" lengthAdjust="spacingAndGlyphs">9</tspan><tspan font-size="22.5" textLength="11.88" lengthAdjust="spacingAndGlyphs">5</tspan></text>
</g>
<g class="row data" id="row16">
<text id="t144" x="6.00" y="702.4" font-size="22" textLength="253.00" lengthAdjust="spacingAndGlyphs">USA/Eurozone, kurzfristig</text>
<text id="t145" x="264.00" y="690.8" font-size="14.5" class="n" textLength="25.60" lengthAdjust="spacingAndGlyphs"><tspan font-size="14.8" dy="2.4">3</tspan><tspan dy="-2.4">)</tspan><tspan font-size="14.8" dy="2.4">4</tspan><tspan dy="-2.4">)</tspan></text>
<text id="t146" x="370.60" y="703.4" font-size="22" class="n"><tspan font-size="22.5" dy="3.6" textLength="11.00" lengthAdjust="spacingAndGlyphs">7</tspan><tspan class="o" font-size="17.1" dy="-3.6" textLength="10.00" lengthAdjust="spacingAndGlyphs">1</tspan></text>
<text id="t147" x="435.20" y="703.4" font-size="22" class="n"><tspan class="o" font-size="17.1" textLength="11.64" lengthAdjust="spacingAndGlyphs">2</tspan><tspan class="o" font-size="17.1" textLength="12.98" lengthAdjust="spacingAndGlyphs">0</tspan><tspan font-size="22.5" dy="3.6" textLength="13.18" lengthAdjust="spacingAndGlyphs">4</tspan></text>
<text id="t148" x="748.00" y="704.1" font-size="22" class="n g"><tspan textLength="7.66" lengthAdjust="spacingAndGlyphs">-</tspan><tspan class="o" font-size="17.1" textLength="10.21" lengthAdjust="spacingAndGlyphs">1</tspan><tspan font-size="22.5" dy="3.6" textLength="13.07" lengthAdjust="spacingAndGlyphs">4</tspan><tspan font-size="22.5" textLength="12.26" lengthAdjust="spacingAndGlyphs">9</tspan></text>
<text id="t149" x="830.62" y="704.1" font-size="22" class="b g"><tspan class="o" font-size="17.4" textLength="11.59" lengthAdjust="spacingAndGlyphs">1</tspan><tspan font-size="23.8" dy="4.2" textLength="12.75" lengthAdjust="spacingAndGlyphs">3</tspan><tspan class="o" font-size="17.4" dy="-4.2" textLength="14.61" lengthAdjust="spacingAndGlyphs">0</tspan></text>
<text id="t150" x="915.40" y="704.1" font-size="22" class="n g"><tspan class="o" font-size="17.1" textLength="10.52" lengthAdjust="spacingAndGlyphs">1</tspan><tspan font-size="22.5" dy="3.6" textLength="12.62" lengthAdjust="spacingAndGlyphs">9</tspan><tspan class="o" font-size="17.1" dy="-3.6" textLength="13.26" lengthAdjust="spacingAndGlyphs">0</tspan></text>
<text id="t151" x="982.20" y="704.1" font-size="22" class="n g"><tspan textLength="7.58" lengthAdjust="spacingAndGlyphs">-</tspan><tspan class="o" font-size="17.1" textLength="10.10" lengthAdjust="spacingAndGlyphs">1</tspan><tspan class="o" font-size="17.1" textLength="11.41" lengthAdjust="spacingAndGlyphs">2</tspan><tspan font-size="22.5" dy="3.6" textLength="11.11" lengthAdjust="spacingAndGlyphs">7</tspan></text>
<text id="t152" x="1063.17" y="704.1" font-size="22" class="b g"><tspan class="o" font-size="17.4" textLength="11.58" lengthAdjust="spacingAndGlyphs">1</tspan><tspan class="o" font-size="17.4" textLength="13.09" lengthAdjust="spacingAndGlyphs">2</tspan><tspan class="o" font-size="17.4" textLength="14.59" lengthAdjust="spacingAndGlyphs">0</tspan></text>
<text id="t153" x="1147.40" y="704.1" font-size="22" class="n g"><tspan class="o" font-size="17.1" textLength="10.52" lengthAdjust="spacingAndGlyphs">1</tspan><tspan font-size="22.5" dy="3.6" textLength="12.62" lengthAdjust="spacingAndGlyphs">9</tspan><tspan class="o" font-size="17.1" dy="-3.6" textLength="13.26" lengthAdjust="spacingAndGlyphs">0</tspan></text>
</g>
<g class="row data" id="row17">
<text id="t154" x="6.00" y="738.5" font-size="22" textLength="192.00" lengthAdjust="spacingAndGlyphs">Eurozone lang/kurz</text>
<text id="t155" x="203.80" y="726.9" font-size="14.5" class="n" textLength="25.60" lengthAdjust="spacingAndGlyphs"><tspan font-size="14.8" dy="2.4">3</tspan><tspan dy="-2.4">)</tspan><tspan font-size="14.8" dy="2.4">4</tspan><tspan dy="-2.4">)</tspan></text>
<text id="t156" x="368.60" y="739.5" font-size="22" class="n"><tspan class="o" font-size="17.1" textLength="10.91" lengthAdjust="spacingAndGlyphs">1</tspan><tspan font-size="22.7" textLength="13.09" lengthAdjust="spacingAndGlyphs">8</tspan></text>
<text id="t157" x="442.40" y="739.5" font-size="22" class="n"><tspan font-size="22.7" textLength="11.90" lengthAdjust="spacingAndGlyphs">8</tspan><tspan class="o" font-size="17.1" textLength="12.50" lengthAdjust="spacingAndGlyphs">0</tspan></text>
<text id="t158" x="748.80" y="740.2" font-size="22" class="n g"><tspan textLength="7.45" lengthAdjust="spacingAndGlyphs">-</tspan><tspan class="o" font-size="17.1" textLength="9.93" lengthAdjust="spacingAndGlyphs">1</tspan><tspan font-size="22.5" dy="3.6" textLength="12.71" lengthAdjust="spacingAndGlyphs">4</tspan><tspan font-size="22.5" textLength="11.52" lengthAdjust="spacingAndGlyphs">5</tspan></text>
<text id="t159" x="833.07" y="740.2" font-size="22" class="b g"><tspan textLength="8.45" lengthAdjust="spacingAndGlyphs">-</tspan><tspan font-size="23.8" dy="4.2" textLength="13.53" lengthAdjust="spacingAndGlyphs">9</tspan><tspan font-size="23.8" textLength="13.08" lengthAdjust="spacingAndGlyphs">5</tspan></text>
<text id="t160" x="918.40" y="740.2" font-size="22" class="n g"><tspan textLength="7.57" lengthAdjust="spacingAndGlyphs">-</tspan><tspan font-size="22.5" dy="3.6" textLength="11.11" lengthAdjust="spacingAndGlyphs">3</tspan><tspan font-size="22.5" textLength="11.72" lengthAdjust="spacingAndGlyphs">5</tspan></text>
<text id="t161" x="981.40" y="740.2" font-size="22" class="n g"><tspan textLength="7.52" lengthAdjust="spacingAndGlyphs">-</tspan><tspan class="o" font-size="17.1" textLength="10.02" lengthAdjust="spacingAndGlyphs">1</tspan><tspan class="o" font-size="17.1" textLength="12.63" lengthAdjust="spacingAndGlyphs">0</tspan><tspan class="o" font-size="17.1" textLength="12.63" lengthAdjust="spacingAndGlyphs">0</tspan></text>
<text id="t162" x="1066.27" y="740.2" font-size="22" class="b g"><tspan textLength="8.21" lengthAdjust="spacingAndGlyphs">-</tspan><tspan font-size="23.8" dy="4.2" textLength="12.05" lengthAdjust="spacingAndGlyphs">3</tspan><tspan class="o" font-size="17.4" dy="-4.2" textLength="13.80" lengthAdjust="spacingAndGlyphs">0</tspan></text>
<text id="t163" x="1153.20" y="740.2" font-size="22" class="n g"><tspan font-size="22.5" dy="3.6" textLength="11.89" lengthAdjust="spacingAndGlyphs">5</tspan><tspan class="o" font-size="17.1" dy="-3.6" textLength="12.91" lengthAdjust="spacingAndGlyphs">0</tspan></text>
</g>
<g id="notes">
<text id="t164" x="6.00" y="775.0" font-size="17" class="f" textLength="266.80" lengthAdjust="spacingAndGlyphs">Redaktionsschluss: <tspan class="o" font-size="13.2">1</tspan><tspan class="o" font-size="13.2">2</tspan>. Sept <tspan class="o" font-size="13.2">2</tspan><tspan class="o" font-size="13.2">0</tspan><tspan class="o" font-size="13.2">2</tspan><tspan font-size="17.4" dy="2.8">4</tspan></text>
<text id="t165" x="6.00" y="804.2" font-size="17" class="f" textLength="1151.00" lengthAdjust="spacingAndGlyphs"><tspan class="o" font-size="13.2">1</tspan>) real gegen Vorjahr bzw. Vorquartal in %; <tspan class="o" font-size="13.2">2</tspan>) gegen Vorjahr in %; <tspan font-size="17.4" dy="2.8">3</tspan><tspan dy="-2.8">)</tspan> Werte für <tspan class="o" font-size="13.2">2</tspan><tspan class="o" font-size="13.2">0</tspan><tspan class="o" font-size="13.2">2</tspan><tspan class="o" font-size="13.2">1</tspan> und <tspan class="o" font-size="13.2">2</tspan><tspan class="o" font-size="13.2">0</tspan><tspan class="o" font-size="13.2">2</tspan><tspan class="o" font-size="13.2">2</tspan> sind Jahresdurchschnitte. letzter Wert der Zinsen und</text>
<text id="t166" x="6.00" y="832.0" font-size="17" class="f" textLength="654.00" lengthAdjust="spacingAndGlyphs">Zinsdifferenzen sind Stände vom Vortag; <tspan font-size="17.4" dy="2.8">4</tspan><tspan dy="-2.8">)</tspan> in Basispunkten * vorläufige Schätzung</text>
</g>
</g>
</svg>
</body>
</html>
